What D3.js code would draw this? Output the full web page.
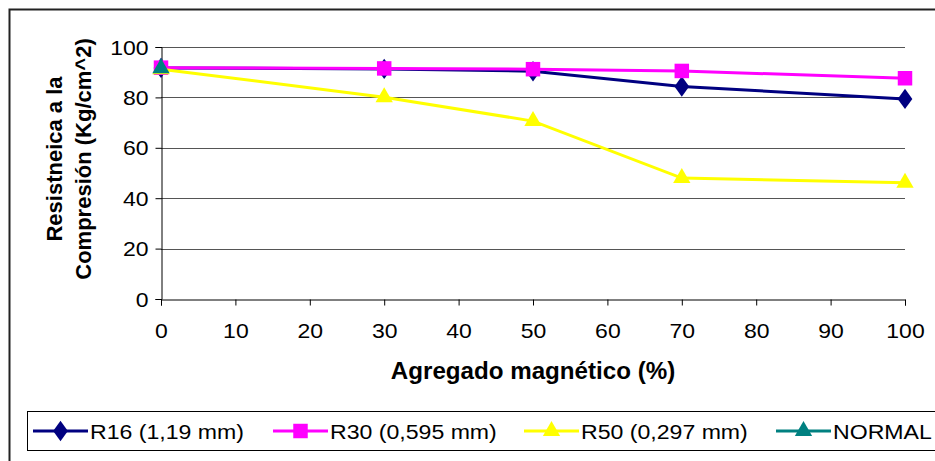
<!DOCTYPE html>
<html>
<head>
<meta charset="utf-8">
<script src="https://cdn.jsdelivr.net/npm/d3@7"></script>
<style>
  html, body { margin: 0; padding: 0; background: #fff; }
  svg { display: block; }
  text { font-family: "Liberation Sans", Arial, sans-serif; fill: #000; }
</style>
</head>
<body>
<svg id="chart" width="935" height="461"></svg>
<script>
// Agregado magnético (%) on the x axis
const xValues = [0, 30, 50, 70, 100];
const seriesNames = ["R16 (1,19 mm)", "R30 (0,595 mm)", "R50 (0,297 mm)", "NORMAL"];
const seriesColors = ["#000080", "#FF00FF", "#FFFF00", "#008080"];
const seriesSymbols = ["diamond", "square", "triangle", "triangle"];
// Resistencia a la compresión (Kg/cm^2)
const r16 = [91.7, 91.3, 90.4, 84.3, 79.4];
const r30 = [91.8, 91.5, 91.2, 90.5, 87.6];
const r50 = [91.2, 80.1, 70.6, 48.0, 46.1];
const normal = [91.6];
const xTicks = [0, 10, 20, 30, 40, 50, 60, 70, 80, 90, 100];
const yTicks = [0, 20, 40, 60, 80, 100];

const seriesValues = [r16, r30, r50, normal];

const svg = d3.select("#chart");
const margin = { left: 161, right: 30, top: 47, bottom: 162 };
const W = 935, H = 461;

const x = d3.scaleLinear().domain([0, 100]).range([margin.left, W - margin.right]);
const y = d3.scaleLinear().domain([0, 100]).range([H - margin.bottom, margin.top]);

const SX = 1.15; // wide glyph proportions

// chart area frame
svg.append("rect")
  .attr("x", 9.5).attr("y", 9.5)
  .attr("width", 960).attr("height", 480)
  .attr("fill", "none").attr("stroke", "#222").attr("stroke-width", 2);

// horizontal gridlines
svg.append("g")
  .selectAll("line")
  .data(yTicks.filter(d => d > 0))
  .join("line")
  .attr("x1", x(0)).attr("x2", x(100))
  .attr("y1", d => Math.round(y(d)) + 0.5).attr("y2", d => Math.round(y(d)) + 0.5)
  .attr("stroke", "#555").attr("stroke-width", 1);

// y axis
const yAxis = svg.append("g")
  .attr("transform", `translate(${Math.round(x(0)) + 0.5},0)`)
  .call(d3.axisLeft(y).tickValues(yTicks).tickSize(6).tickPadding(7).tickFormat(d3.format("d")));
yAxis.select(".domain").attr("stroke", "#000");
yAxis.selectAll(".tick line").attr("stroke", "#000");
yAxis.selectAll(".tick text")
  .attr("font-size", 20)
  .attr("dy", "0.35em")
  .attr("x", null)
  .attr("text-anchor", "end")
  .attr("transform", `translate(-13,0) scale(${SX},1)`);

// x axis
const xAxis = svg.append("g")
  .attr("transform", `translate(0,${Math.round(y(0)) + 0.5})`)
  .call(d3.axisBottom(x).tickValues(xTicks).tickSize(6).tickPadding(12).tickFormat(d3.format("d")));
xAxis.select(".domain").attr("stroke", "#000");
xAxis.selectAll(".tick line").attr("stroke", "#000");
xAxis.selectAll(".tick text")
  .attr("font-size", 20)
  .attr("y", null).attr("dy", null)
  .attr("transform", `translate(0,38) scale(${SX},1)`);

// axis titles
svg.append("text")
  .attr("transform", `translate(${(x(0) + x(100)) / 2},379) scale(1.05,1)`)
  .attr("text-anchor", "middle")
  .attr("font-size", 23).attr("font-weight", "bold")
  .text("Agregado magnético (%)");

const yTitle = svg.append("text")
  .attr("transform", `translate(62,159) rotate(-90)`)
  .attr("text-anchor", "middle")
  .attr("font-size", 22).attr("font-weight", "bold");
yTitle.append("tspan").attr("x", 0).attr("dy", 0).text("Resistneica a la");
yTitle.append("tspan").attr("x", 0).attr("dy", 29).text("Compresión (Kg/cm^2)");

// marker shapes
const symbolOf = {
  diamond: d3.symbol().type(d3.symbolDiamond).size(120),
  square: d3.symbol().type(d3.symbolSquare).size(210),
  triangle: d3.symbol().type(d3.symbolTriangle).size(130)
};

const line = d3.line().x(d => x(d[0])).y(d => y(d[1]));

seriesValues.forEach((vals, i) => {
  const pts = vals.map((v, j) => [xValues[j], v]);
  const g = svg.append("g");
  if (pts.length > 1) {
    g.append("path")
      .attr("d", line(pts))
      .attr("fill", "none")
      .attr("stroke", seriesColors[i])
      .attr("stroke-width", 3);
  }
  g.selectAll("path.mark")
    .data(pts)
    .join("path")
    .attr("class", "mark")
    .attr("d", symbolOf[seriesSymbols[i]]())
    .attr("transform", d => `translate(${x(d[0])},${y(d[1])})${seriesSymbols[i] === "diamond" ? " scale(1.25,1)" : ""}`)
    .attr("fill", seriesColors[i]);
});

// legend
const legend = svg.append("g");
legend.append("rect")
  .attr("x", 27.5).attr("y", 411.5)
  .attr("width", 940).attr("height", 39)
  .attr("fill", "#fff").attr("stroke", "#000").attr("stroke-width", 1);

const legendX = [33, 273, 524, 776];
seriesNames.forEach((name, i) => {
  const lg = legend.append("g").attr("transform", `translate(${legendX[i]},431)`);
  lg.append("line")
    .attr("x1", 0).attr("x2", 55).attr("y1", 0).attr("y2", 0)
    .attr("stroke", seriesColors[i]).attr("stroke-width", 3);
  lg.append("path")
    .attr("d", symbolOf[seriesSymbols[i]]())
    .attr("transform", `translate(27.5,0)${seriesSymbols[i] === "diamond" ? " scale(1.25,1)" : ""}`)
    .attr("fill", seriesColors[i]);
  lg.append("text")
    .attr("transform", `translate(57,7.5) scale(1.1,1)`)
    .attr("font-size", 21)
    .text(name);
});
</script>
</body>
</html>
